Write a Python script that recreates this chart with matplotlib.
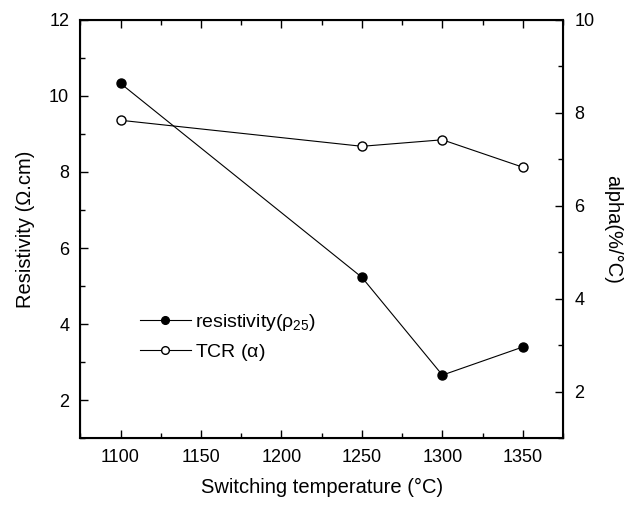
import matplotlib.pyplot as plt
from matplotlib.ticker import MultipleLocator

plt.rcParams['font.family'] = ['Liberation Sans', 'DejaVu Sans']
plt.rcParams['mathtext.fontset'] = 'custom'
plt.rcParams['mathtext.rm'] = 'Liberation Sans'
plt.rcParams['mathtext.it'] = 'Liberation Sans'

# data
temp = [1100, 1250, 1300, 1350]
resistivity = [10.33, 5.23, 2.66, 3.40]
tcr = [7.84, 7.28, 7.42, 6.83]

fig = plt.figure(figsize=(6.32, 5.09), dpi=100)
ax = fig.add_axes([0.127, 0.139, 0.764, 0.822])
ax2 = ax.twinx()

l1, = ax.plot(temp, resistivity, color='black', lw=0.8, marker='o', ms=6.5,
              mfc='black', mec='black', label='resistivity($\\rho_{25}$)')
l2, = ax2.plot(temp, tcr, color='black', lw=0.8, marker='o', ms=6.5,
               mfc='white', mec='black', label='TCR ($\\alpha$)')

ax.set_xlim(1075, 1375)
ax.set_ylim(1, 12)
ax2.set_ylim(1, 10)
ax.xaxis.set_major_locator(MultipleLocator(50))
ax.xaxis.set_minor_locator(MultipleLocator(25))
ax.yaxis.set_major_locator(MultipleLocator(2))
ax.yaxis.set_minor_locator(MultipleLocator(1))
ax2.yaxis.set_major_locator(MultipleLocator(2))
ax2.yaxis.set_minor_locator(MultipleLocator(1))

ax.tick_params(which='both', direction='in', top=True, labelsize=13, width=1)
ax.tick_params(which='major', length=6, pad=8)
ax.tick_params(which='minor', length=3.5)
ax2.tick_params(which='both', direction='in', labelsize=13, width=1)
ax2.tick_params(which='major', length=6, pad=8)
ax2.tick_params(which='minor', length=3.5)
for sp in ax.spines.values():
    sp.set_linewidth(1.5)

ax.set_xlabel('Switching temperature (°C)', fontsize=14.5, labelpad=8)
ax.set_ylabel('Resistivity (Ω.cm)', fontsize=14.5, labelpad=10)
ax2.set_ylabel('alpha(%/°C)', fontsize=14.5, rotation=270, labelpad=20)

ax.legend(handles=[l1, l2], loc='upper left', bbox_to_anchor=(0.108, 0.32),
          frameon=False, fontsize=14, handlelength=2.6, handletextpad=0.2,
          labelspacing=0.45, markerscale=0.85, borderaxespad=0)

plt.savefig('out.png')
